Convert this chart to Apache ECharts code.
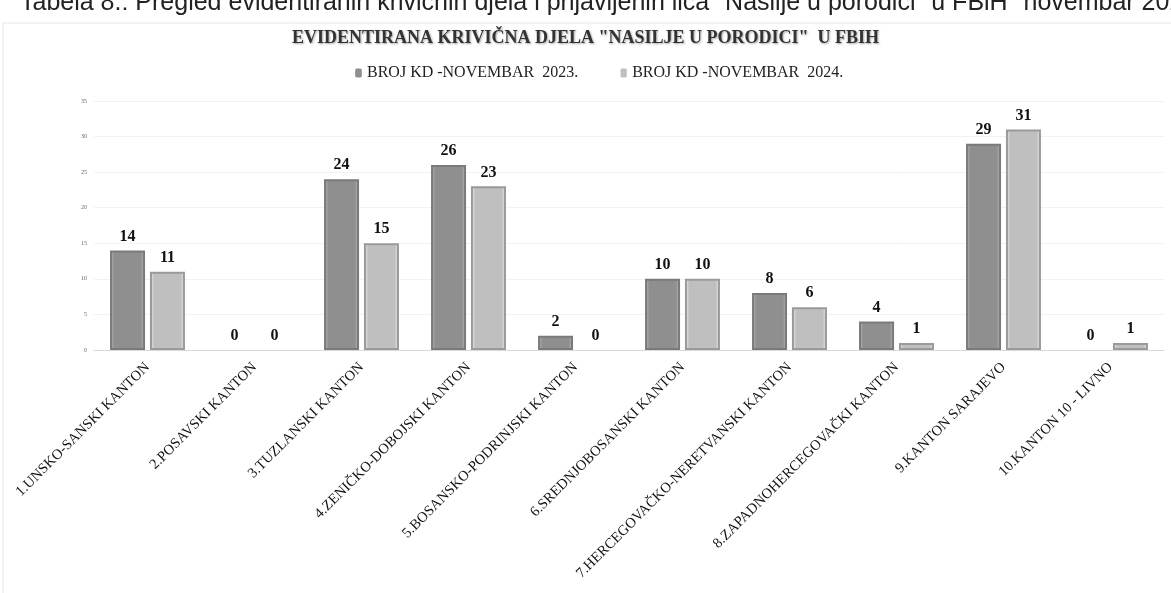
<!DOCTYPE html>
<html>
<head>
<meta charset="utf-8">
<script src="https://cdn.jsdelivr.net/npm/echarts@6/dist/echarts.min.js"></script>
<style>
  html, body { margin: 0; padding: 0; background: #fff; }
  #chart { width: 1171px; height: 593px; }
</style>
</head>
<body>
<div id="chart"></div>
<script>
const categories = [
  '1.UNSKO-SANSKI KANTON',
  '2.POSAVSKI KANTON',
  '3.TUZLANSKI KANTON',
  '4.ZENIČKO-DOBOJSKI KANTON',
  '5.BOSANSKO-PODRINJSKI KANTON',
  '6.SREDNJOBOSANSKI KANTON',
  '7.HERCEGOVAČKO-NERETVANSKI KANTON',
  '8.ZAPADNOHERCEGOVAČKI KANTON',
  '9.KANTON SARAJEVO',
  '10.KANTON 10 - LIVNO'
]
const nov2023 = [14, 0, 24, 26, 2, 10, 8, 4, 29, 0]
const nov2024 = [11, 0, 15, 23, 0, 10, 6, 1, 31, 1]
const seriesNames = ['BROJ KD -NOVEMBAR  2023.', 'BROJ KD -NOVEMBAR  2024.']

const serif = '"Liberation Serif", "DejaVu Serif", serif'

const chart = echarts.init(document.getElementById('chart'))

// fill with lighter rim at the sides, like the bevelled bars in the original
function barFill(edge, mid) {
  return new echarts.graphic.LinearGradient(0, 0, 1, 0, [
    { offset: 0, color: edge },
    { offset: 0.12, color: mid },
    { offset: 0.88, color: mid },
    { offset: 1, color: edge },
  ])
}

// zero bars draw no outline, only their label
function toItems(arr) {
  return arr.map(v => (v === 0 ? { value: 0, itemStyle: { borderWidth: 0 } } : v))
}

const labelStyle = {
  show: true,
  position: 'top',
  distance: 6,
  fontFamily: serif,
  fontWeight: 'bold',
  fontSize: 16,
  color: '#111',
}

chart.setOption({
  animation: false,
  graphic: [
    {
      type: 'text',
      left: 20,
      top: -9,
      style: {
        text: 'Tabela 8.: Pregled evidentiranih krivičnih djela i prijavljenih lica "Nasilje u porodici" u FBiH" novembar 2024.',
        font: '25px "Liberation Sans", Arial, sans-serif',
        fill: '#222',
      },
    },
    {
      type: 'rect',
      shape: { x: 3, y: 23, width: 1180, height: 600 },
      style: { fill: '#fff', stroke: '#e6e6e6', lineWidth: 1 },
      z: -1,
    },
  ],
  title: {
    text: 'EVIDENTIRANA KRIVIČNA DJELA "NASILJE U PORODICI"  U FBIH',
    left: 'center',
    top: 24,
    textStyle: {
      fontFamily: serif,
      fontWeight: 'bold',
      fontSize: 18,
      color: '#333',
      textShadowColor: 'rgba(0,0,0,0.35)',
      textShadowBlur: 2,
      textShadowOffsetX: 1,
      textShadowOffsetY: 1,
    },
  },
  legend: {
    top: 60,
    left: 350,
    itemWidth: 7,
    itemHeight: 9,
    itemGap: 42,
    itemStyle: { borderWidth: 0 },
    textStyle: { fontFamily: serif, fontSize: 16, color: '#222' },
    data: seriesNames,
  },
  grid: { left: 94, right: 7, top: 101, bottom: 243, containLabel: false },
  xAxis: {
    type: 'category',
    data: categories,
    axisTick: { show: false },
    axisLine: { lineStyle: { color: '#d9d9d9' } },
    axisLabel: {
      interval: 0,
      rotate: 45,
      margin: 15,
      fontFamily: serif,
      fontSize: 14.5,
      color: '#111',
    },
  },
  yAxis: {
    type: 'value',
    min: 0,
    max: 35,
    interval: 5,
    axisLine: { show: false },
    axisTick: { show: false },
    splitLine: { lineStyle: { color: '#f2f2f2' } },
    axisLabel: { fontFamily: serif, fontSize: 6, color: '#666', margin: 7 },
  },
  series: [
    {
      name: seriesNames[0],
      type: 'bar',
      data: toItems(nov2023),
      barWidth: 35,
      barGap: '14%',
      itemStyle: {
        color: barFill('#bdbdbd', '#8f8f8f'),
        borderColor: '#7a7a7a',
        borderWidth: 2,
      },
      label: labelStyle,
    },
    {
      name: seriesNames[1],
      type: 'bar',
      data: toItems(nov2024),
      barWidth: 35,
      itemStyle: {
        color: barFill('#f4f4f4', '#bfbfbf'),
        borderColor: '#9a9a9a',
        borderWidth: 2,
      },
      label: labelStyle,
    },
  ],
})
</script>
</body>
</html>
